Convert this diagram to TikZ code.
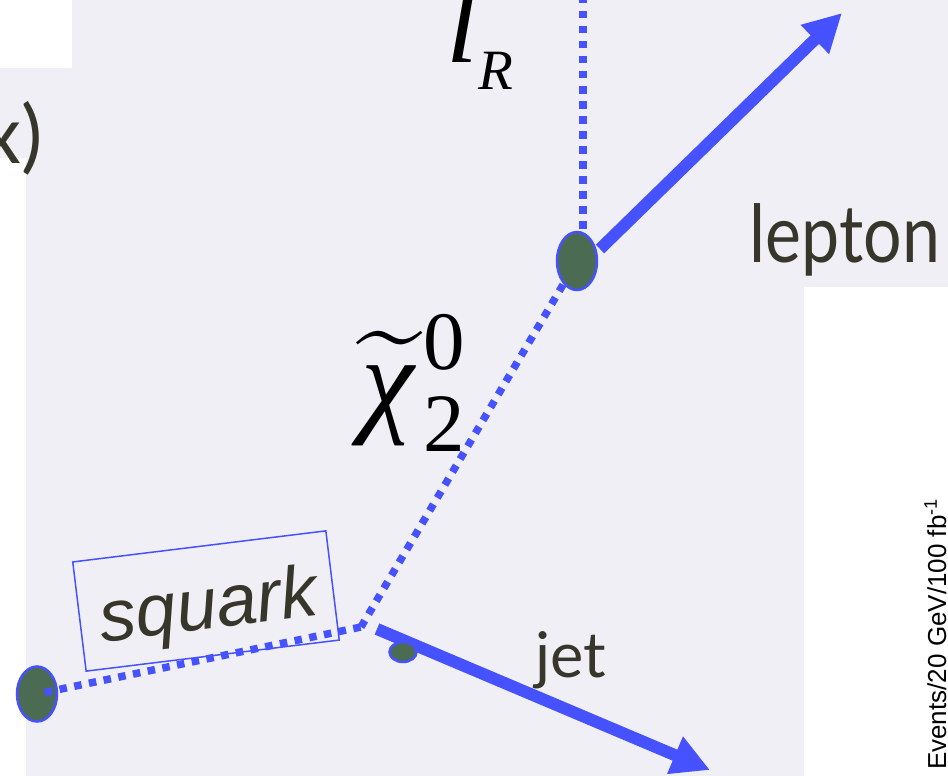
\documentclass[tikz,border=0pt]{standalone}
\usepackage{graphicx}
\usepackage{exscale}
\usepackage{fontspec}
\usepackage{tikz}
\usetikzlibrary{arrows.meta,shapes.geometric}
\newfontfamily\optfont{Lato}
\newfontfamily\optnarrow[FakeStretch=0.85]{Lato}
\newfontfamily\helvfont{Liberation Sans}
\newfontfamily\timesfont{Liberation Serif}
\definecolor{slide}{HTML}{F0EFF5}
\definecolor{ink}{HTML}{36372A}
\definecolor{beam}{HTML}{4652FF}
\definecolor{blobfill}{HTML}{4C6B53}

\begin{document}
\begin{tikzpicture}[x=1pt, y=-1pt,
  blob/.style={ellipse, draw=beam, line width=2.5pt, fill=blobfill, inner sep=0pt},
  spart/.style={draw=beam, line width=7.5pt, dash pattern=on 7.5pt off 7.5pt},
  track/.style={draw=beam, line width=12pt, -{Triangle[length=38pt,width=38pt]}},
  word/.style={text=ink, inner sep=0pt, font=\optfont\fontsize{80}{80}\selectfont},
  mathlbl/.style={text=black, inner sep=0pt}]
\useasboundingbox (0,0) rectangle (948,776);
\clip (0,0) rectangle (948,776);
\fill[slide] (0,0) rectangle (948,776);
\fill[white] (0,0) rectangle (72,68);
\fill[white] (0,158) rectangle (26,776);
\fill[white] (804,287) rectangle (948,776);
\node[word, anchor=base east] (xparen) at (43,163) {x)};
\coordinate (vtx) at (361,627);
\coordinate (sltop) at (583,-4);
\coordinate (lepstart) at (600,249);
\coordinate (lepend) at (842,13);
\coordinate (jetstart) at (377,629);
\coordinate (jetend) at (710,770);
\draw[spart] (vtx) -- (577,261);
\draw[spart] (sltop) -- (583,232);
\draw[track] (lepstart) -- (lepend);
\node[blob, minimum width=40pt, minimum height=58pt] (decay) at (577,261) {};
\node[blob, minimum width=40pt, minimum height=55pt] (sqblob) at (37,694) {};
\draw[spart, shorten <=8pt] (sqblob.center) -- (vtx);
\draw[track] (jetstart) -- (jetend);
\node[blob, minimum width=27pt, minimum height=20pt] (jetblob) at (403,652) {};
\node[draw=beam, line width=1.5pt, rotate=7, minimum width=255pt, minimum height=110pt] (sqbox) at (206,601) {};
\node[text=ink, inner sep=0pt, rotate=7, font=\helvfont\itshape\fontsize{73}{73}\selectfont] (sqtext) at (209,610) {squark};
\node[word, font=\optnarrow\fontsize{80}{80}\selectfont] (lepton) at (845,262) [anchor=base] {lepton};
\node[word, font=\optfont\fontsize{63}{63}\selectfont] (jet) at (571,677) [anchor=base] {jet};
\node[mathlbl] (chi) at (412,383) {\scalebox{4.8}{\Huge$\widetilde{\mbox{\timesfont\itshape\kern1pt χ\kern2pt}}^{\mbox{\timesfont\LARGE 0}}_{\mbox{\timesfont\LARGE 2}}$}};
\node[mathlbl, anchor=base west, font=\timesfont\itshape\fontsize{115}{115}\selectfont] (slep) at (446,63) {l\kern0pt\raisebox{-27pt}{\fontsize{57}{57}\selectfont R}};
\node[text=black, inner sep=0pt, rotate=90, anchor=base west, font=\helvfont\fontsize{26}{26}\selectfont] (ylabel) at (946,770) {Events/20 GeV/100 fb\textsuperscript{-1}};
\end{tikzpicture}
\end{document}
